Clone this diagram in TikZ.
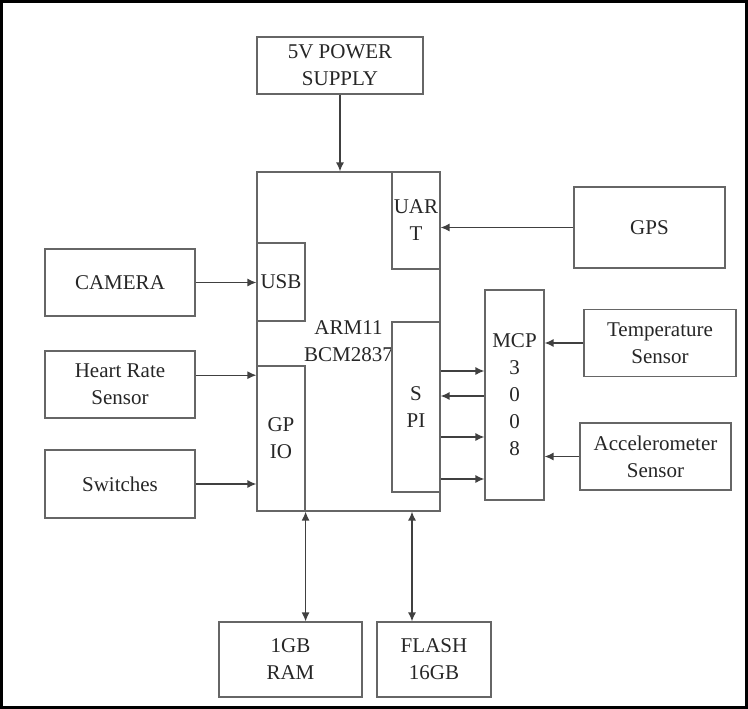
\documentclass[tikz,border=0pt]{standalone}
\usepackage{fontspec}
\setmainfont{LiberationSerif}[Extension=.ttf, UprightFont=*-Regular, BoldFont=*-Bold]
\usetikzlibrary{arrows.meta}

\begin{document}
\begin{tikzpicture}[
    x=1pt, y=-1pt,
    font=\fontsize{21}{27}\selectfont,
    box/.style = {rectangle, draw=black!60, line width=1.2pt, text=black!85,
                  align=center, inner sep=0pt},
    sensor/.style = {box, minimum width=151pt, minimum height=67pt},
    port/.style = {box, minimum width=48pt},
    mem/.style = {box, minimum height=75pt},
    arrow/.style = {line width=1.3pt, draw=black!75, ->, >={Latex[length=9pt,width=8pt]}}
]

    % Frame
    \useasboundingbox (0,0) rectangle (748,709);
    \draw[line width=3pt] (1.5,1.5) rectangle (746.5,707.5);

    % Power
    \node[box, minimum width=166pt, minimum height=57pt] (power) at (340,65.5) {5V POWER\\SUPPLY};

    % Processor and its ports
    \node[box, minimum width=183pt, minimum height=339pt] (arm) at (348.5,341.5) {ARM11\\BCM2837};
    \node[port, minimum height=97pt] (uart) at (416,220.5) {UAR\\T};
    \node[port, minimum height=78pt] (usb) at (281,282) {USB};
    \node[port, minimum height=145pt] (gpio) at (281,438.5) {GP\\IO};
    \node[port, minimum height=170pt] (spi) at (416,407) {S\\PI};

    % ADC
    \node[box, minimum width=59pt, minimum height=210pt] (mcp) at (514.5,395) {MCP\\3\\0\\0\\8};

    % Inputs
    \node[sensor, minimum height=81pt] (gps) at (649.5,227.5) {GPS};
    \node[sensor, minimum width=152pt] (temp) at (660,343) {Temperature\\Sensor};
    \node[sensor] (accel) at (655.5,456.5) {Accelerometer\\Sensor};
    \node[sensor, minimum width=150pt] (camera) at (120,282.5) {CAMERA};
    \node[sensor, minimum width=150pt] (heart) at (120,384.5) {Heart Rate\\Sensor};
    \node[sensor, minimum width=150pt, minimum height=68pt] (switches) at (120,484) {Switches};

    % Memory
    \node[mem, minimum width=143pt] (ram) at (290.5,659.5) {1GB\\RAM};
    \node[mem, minimum width=114pt] (flash) at (434,659.5) {FLASH\\16GB};

    % Arrows
    \draw[arrow] (power.south) -- (power.south |- arm.north);
    \draw[arrow] (gps.west) -- (gps.west -| uart.east);
    \draw[arrow] (camera.east) -- (camera.east -| usb.west);
    \draw[arrow] (heart.7) -- (heart.7 -| gpio.west);
    \draw[arrow] (switches.east) -- (switches.east -| gpio.west);
    \draw[arrow] (temp.west) -- (temp.west -| mcp.east);
    \draw[arrow] (accel.west) -- (accel.west -| mcp.east);

    % SPI bus
    \draw[arrow] ([yshift=36pt]spi.east) -- ([yshift=36pt]spi.east -| mcp.west);
    \draw[arrow, <-] ([yshift=11pt]spi.east) -- ([yshift=11pt]spi.east -| mcp.west);
    \draw[arrow] ([yshift=-30pt]spi.east) -- ([yshift=-30pt]spi.east -| mcp.west);
    \draw[arrow] ([yshift=-72pt]spi.east) -- ([yshift=-72pt]spi.east -| mcp.west);

    % Memory links
    \draw[arrow, <->] (gpio.south east) -- (gpio.south east |- ram.north);
    \draw[arrow, <->] ([xshift=-4pt]spi.south |- arm.south) -- ([xshift=-4pt]spi.south |- flash.north);

\end{tikzpicture}
\end{document}
